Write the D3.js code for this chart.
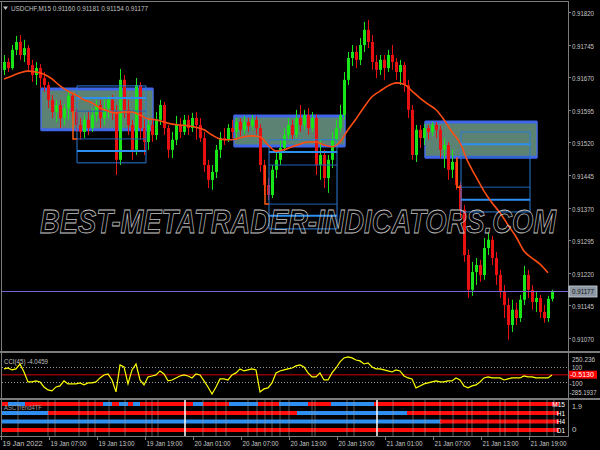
<!DOCTYPE html>
<html><head><meta charset="utf-8">
<script src="https://cdn.jsdelivr.net/npm/d3@7"></script>
<style>
html,body{margin:0;padding:0;background:#000;}
svg{display:block;}
text{font-family:"Liberation Sans","DejaVu Sans",sans-serif;}
</style></head><body>
<svg id="c" width="600" height="450"></svg>
<script>
// ---------------- DATA ----------------
const symbolTitle = "USDCHF,M15";
const lastOHLC = [0.91160, 0.91181, 0.91154, 0.91177];
const open = [0.91687,0.91705,0.91691,0.91733,0.91751,0.91721,0.91737,0.91698,0.91675,0.91691,
0.91668,0.91652,0.91618,0.91590,0.91606,0.91576,0.91599,0.91627,0.91590,0.91560,
0.91544,0.91572,0.91553,0.91583,0.91606,0.91576,0.91599,0.91618,0.91590,0.91480,
0.91664,0.91595,0.91560,0.91503,0.91652,0.91553,0.91521,0.91560,0.91537,0.91572,
0.91606,0.91553,0.91503,0.91526,0.91560,0.91544,0.91572,0.91553,0.91576,0.91560,
0.91530,0.91468,0.91434,0.91452,0.91503,0.91530,0.91526,0.91553,0.91544,0.91567,
0.91549,0.91567,0.91558,0.91572,0.91553,0.91468,0.91422,0.91399,0.91457,0.91480,
0.91507,0.91537,0.91560,0.91537,0.91576,0.91560,0.91583,0.91553,0.91576,0.91468,
0.91491,0.91438,0.91480,0.91526,0.91553,0.91583,0.91664,0.91714,0.91728,0.91710,
0.91744,0.91779,0.91751,0.91705,0.91687,0.91710,0.91691,0.91721,0.91705,0.91682,
0.91698,0.91652,0.91595,0.91491,0.91549,0.91530,0.91553,0.91544,0.91560,0.91549,
0.91503,0.91514,0.91457,0.91475,0.91422,0.91365,0.91261,0.91181,0.91222,0.91238,
0.91215,0.91277,0.91296,0.91254,0.91215,0.91176,0.91146,0.91100,0.91135,0.91116,
0.91158,0.91215,0.91181,0.91153,0.91162,0.91130,0.91116,0.91160];
const high = [0.91721,0.91714,0.91744,0.91765,0.91767,0.91756,0.91744,0.91710,0.91705,0.91700,
0.91682,0.91659,0.91629,0.91618,0.91618,0.91608,0.91636,0.91631,0.91599,0.91576,
0.91583,0.91590,0.91599,0.91618,0.91618,0.91622,0.91627,0.91629,0.91606,0.91689,
0.91675,0.91618,0.91572,0.91668,0.91659,0.91572,0.91576,0.91572,0.91590,0.91618,
0.91613,0.91560,0.91544,0.91581,0.91576,0.91583,0.91583,0.91588,0.91590,0.91576,
0.91544,0.91480,0.91468,0.91514,0.91544,0.91553,0.91562,0.91572,0.91576,0.91576,
0.91581,0.91576,0.91583,0.91581,0.91562,0.91480,0.91438,0.91468,0.91498,0.91526,
0.91553,0.91576,0.91572,0.91595,0.91606,0.91595,0.91599,0.91590,0.91585,0.91526,
0.91503,0.91491,0.91544,0.91572,0.91606,0.91682,0.91728,0.91744,0.91742,0.91760,
0.91797,0.91802,0.91767,0.91721,0.91721,0.91721,0.91733,0.91744,0.91714,0.91710,
0.91705,0.91664,0.91606,0.91560,0.91560,0.91562,0.91560,0.91567,0.91567,0.91558,
0.91530,0.91521,0.91503,0.91484,0.91429,0.91376,0.91273,0.91245,0.91254,0.91250,
0.91300,0.91312,0.91305,0.91268,0.91227,0.91192,0.91162,0.91158,0.91151,0.91169,
0.91236,0.91227,0.91192,0.91176,0.91169,0.91146,0.91167,0.91181];
const low = [0.91675,0.91682,0.91687,0.91721,0.91710,0.91705,0.91682,0.91659,0.91652,0.91645,
0.91636,0.91599,0.91576,0.91567,0.91553,0.91560,0.91572,0.91576,0.91544,0.91526,
0.91530,0.91537,0.91544,0.91567,0.91553,0.91560,0.91576,0.91572,0.91445,0.91468,
0.91576,0.91537,0.91480,0.91491,0.91526,0.91491,0.91503,0.91521,0.91526,0.91560,
0.91537,0.91484,0.91484,0.91514,0.91530,0.91537,0.91537,0.91544,0.91526,0.91521,
0.91452,0.91415,0.91411,0.91438,0.91484,0.91514,0.91521,0.91530,0.91530,0.91535,
0.91539,0.91544,0.91549,0.91539,0.91452,0.91399,0.91388,0.91392,0.91438,0.91468,
0.91498,0.91526,0.91526,0.91530,0.91544,0.91549,0.91537,0.91544,0.91445,0.91434,
0.91415,0.91404,0.91461,0.91514,0.91544,0.91572,0.91652,0.91696,0.91691,0.91698,
0.91728,0.91737,0.91687,0.91668,0.91675,0.91664,0.91682,0.91687,0.91664,0.91652,
0.91636,0.91576,0.91480,0.91475,0.91507,0.91514,0.91526,0.91535,0.91530,0.91484,
0.91461,0.91434,0.91438,0.91411,0.91346,0.91245,0.91162,0.91167,0.91192,0.91199,
0.91204,0.91261,0.91238,0.91192,0.91162,0.91116,0.91066,0.91084,0.91100,0.91107,
0.91146,0.91162,0.91135,0.91130,0.91116,0.91105,0.91107,0.91154];
const close = [0.91705,0.91691,0.91733,0.91751,0.91721,0.91737,0.91698,0.91675,0.91691,0.91668,
0.91652,0.91618,0.91590,0.91606,0.91576,0.91599,0.91627,0.91590,0.91560,0.91544,
0.91572,0.91553,0.91583,0.91606,0.91576,0.91599,0.91618,0.91590,0.91480,0.91664,
0.91595,0.91560,0.91503,0.91652,0.91553,0.91521,0.91560,0.91537,0.91572,0.91606,
0.91553,0.91503,0.91526,0.91560,0.91544,0.91572,0.91553,0.91576,0.91560,0.91530,
0.91468,0.91434,0.91452,0.91503,0.91530,0.91526,0.91553,0.91544,0.91567,0.91549,
0.91567,0.91558,0.91572,0.91553,0.91468,0.91422,0.91399,0.91457,0.91480,0.91507,
0.91537,0.91560,0.91537,0.91576,0.91560,0.91583,0.91553,0.91576,0.91468,0.91491,
0.91438,0.91480,0.91526,0.91553,0.91583,0.91664,0.91714,0.91728,0.91710,0.91744,
0.91779,0.91751,0.91705,0.91687,0.91710,0.91691,0.91721,0.91705,0.91682,0.91698,
0.91652,0.91595,0.91491,0.91549,0.91530,0.91553,0.91544,0.91560,0.91549,0.91503,
0.91514,0.91457,0.91475,0.91422,0.91365,0.91261,0.91181,0.91222,0.91238,0.91215,
0.91277,0.91296,0.91254,0.91215,0.91176,0.91146,0.91100,0.91135,0.91116,0.91158,
0.91215,0.91181,0.91153,0.91162,0.91130,0.91116,0.91160,0.91177];
// moving average, sampled every 2nd bar
const maStep = 2;
const maValues = [0.91666,0.91673,0.91680,0.91684,0.91682,0.91677,0.91666,0.91650,0.91638,0.91629,
0.91618,0.91611,0.91599,0.91592,0.91588,0.91590,0.91590,0.91583,0.91574,0.91572,
0.91567,0.91562,0.91560,0.91558,0.91555,0.91549,0.91537,0.91528,0.91526,0.91528,
0.91533,0.91535,0.91533,0.91514,0.91500,0.91503,0.91510,0.91516,0.91521,0.91521,
0.91514,0.91510,0.91521,0.91549,0.91574,0.91601,0.91625,0.91638,0.91650,0.91657,
0.91654,0.91638,0.91622,0.91608,0.91595,0.91572,0.91544,0.91519,0.91475,0.91441,
0.91408,0.91381,0.91358,0.91330,0.91303,0.91270,0.91254,0.91240,0.91220];
const cciValues = [73,85,60,73,136,34,-93,-93,-80,-93,-157,-195,-208,-157,-144,-80,-118,-118,-118,-106,
-131,-106,-106,-93,-42,-4,9,-68,-220,124,98,-118,60,136,-68,-131,-29,-17,-4,47,
9,-80,-68,-42,-17,-4,-17,-42,9,-4,-80,-157,-246,-157,-55,-55,-68,-4,22,73,
47,60,73,60,-220,-182,-169,-106,22,47,60,73,85,111,124,98,22,-29,-29,22,
-68,-68,22,85,162,213,225,213,187,175,136,149,98,73,73,60,47,34,60,47,
-17,-42,-55,-169,-144,-118,-106,-93,-80,-93,-93,-80,-80,-42,-68,-144,-169,-144,-131,-93,
-42,-29,-42,-42,-42,-68,-55,-42,-42,-42,-17,-29,-29,-42,-42,-42,-42,-4];
const cciLabel = "CCI(45) -4.0459";
const cciMax = 250.236, cciMin = -285.1937, cciLevels = [100, -100], cciCurrent = -0.5130;
const priceTicks = [0.91820,0.91745,0.91670,0.91595,0.91520,0.91445,0.91370,0.91295,0.91220,0.91145,0.91070];
const timeLabels = ["19 Jan 2022","19 Jan 07:00","19 Jan 13:00","19 Jan 19:00","20 Jan 01:00","20 Jan 07:00",
"20 Jan 13:00","20 Jan 19:00","21 Jan 01:00","21 Jan 07:00","21 Jan 13:00","21 Jan 19:00"];
const timeTickIndex = [-0.75,11.25,23.25,35.25,47.25,59.25,71.25,83.25,95.25,107.25,119.25,131.25];
// supply / demand zones (bar index range, price range)
const zoneStart = [9.25, 57.5, 105.25];
const zoneEnd   = [37.25, 85.25, 133.25];
const zoneTop   = [0.91643, 0.91581, 0.91567];
const zoneBottom= [0.91549, 0.91512, 0.91486];
// projection grids (bar index range, six levels)
const gridStart = [18.25, 66.25, 114.25];
const gridEnd   = [35.5, 83.25, 131.5];
const gridLevels = [
  [0.91650,0.91622,0.91592,0.91528,0.91500,0.91473],
  [0.91526,0.91498,0.91468,0.91378,0.91351,0.91321],
  [0.91544,0.91516,0.91486,0.91417,0.91388,0.91360]];
// multi timeframe trend rows: segments [startIndex, endIndex, 1=up(blue) / -1=down(red)]
const trendRows = ["M15","H1","H4","D1"];
const trendSegments = [
  [[-0.5,1.5,-1],[1.5,5.75,1],[5.75,25.25,-1],[25.25,27.5,1],[27.5,29.25,-1],[29.25,31.5,1],[31.5,32.75,-1],[32.75,34.5,1],[34.5,47.75,-1],
   [47.75,50.25,1],[50.25,56.75,-1],[56.75,64,1],[64,69.25,-1],[69.25,76.5,1],[76.5,82.25,-1],[82.25,93,1],[93,138.75,-1]],
  [[-0.5,11.5,1],[11.5,73.75,-1],[73.75,101.25,1],[101.25,138.75,-1]],
  [[-0.5,109.5,1],[109.5,138.75,-1]],
  [[-0.5,138.75,-1]]];
const trendLabel = "ASCTrend4TF";
const trendAxis = ["1.9","0"];
const hourSeparators = [3.5,11,12.75,18.75,21,22.75,26.25,30.25,35.5,37,38.5,49.75,53,55.5,61,63.25,65.25,67,69,71.25,77,77.75,85.75,87.5,97.25,102.25,105.25,109,112.25,115.75,117,121,124,125.25,128.5,131.5,135.75,137.5];
const daySeparators = [45.25, 93.25];
const watermark = "BEST-METATRADER-INDICATORS.COM";

// ---------------- DRAW ----------------
const svg = d3.select("#c");
svg.append("rect").attr("width",600).attr("height",450).attr("fill","#000");
const N = close.length;
const x = d3.scaleLinear().domain([0, N-1]).range([4, 4+4*(N-1)]);
const y = d3.scaleLinear().domain([0.91070, 0.91820]).range([338, 12]);
const yc = d3.scaleLinear().domain([cciMin, cciMax]).range([397, 355]);
const bull = "#19e619", bear = "#e81010";
const axisCol = "#c8c8c8", frameCol = "#7c7c7c";
const FS = 8;

function label(g, xx, yy, txt, len, opts={}) {
  const t = g.append("text").attr("x",xx).attr("y",yy).text(txt)
    .attr("font-size",opts.size||FS).attr("fill",opts.fill||axisCol);
  if (len) t.attr("textLength",len).attr("lengthAdjust","spacingAndGlyphs");
  if (opts.anchor) t.attr("text-anchor",opts.anchor);
  return t;
}

const defs = svg.append("defs");
defs.append("clipPath").attr("id","clipMain").append("rect").attr("x",2).attr("y",2).attr("width",566).attr("height",348);
defs.append("clipPath").attr("id","clipCci").append("rect").attr("x",2).attr("y",354).attr("width",566).attr("height",43);

// zones (behind candles)
const gZ = svg.append("g").attr("clip-path","url(#clipMain)");
zoneStart.forEach((s,k)=>{
  const x0 = x(s), x1 = x(zoneEnd[k]), y0 = y(zoneTop[k]), y1 = y(zoneBottom[k]);
  gZ.append("rect").attr("x",x0).attr("y",y0).attr("width",x1-x0).attr("height",y1-y0)
    .attr("fill","#5b8272").attr("stroke","#4a6fe0").attr("stroke-width",1.5);
  gZ.append("line").attr("x1",x0).attr("x2",x1).attr("y1",y0).attr("y2",y0).attr("stroke","#3f66e8").attr("stroke-width",3);
  gZ.append("line").attr("x1",x0).attr("x2",x1).attr("y1",y1).attr("y2",y1).attr("stroke","#3f66e8").attr("stroke-width",3);
});

// candles
const gC = svg.append("g").attr("clip-path","url(#clipMain)");
const idx = d3.range(N);
gC.selectAll("line.wick").data(idx).join("line").attr("class","wick")
  .attr("x1",i=>x(i)+0.5).attr("x2",i=>x(i)+0.5)
  .attr("y1",i=>y(high[i])).attr("y2",i=>y(low[i]))
  .attr("stroke",i=>close[i]>=open[i]?bull:bear).attr("stroke-width",1);
gC.selectAll("rect.body").data(idx).join("rect").attr("class","body")
  .attr("x",i=>x(i)-1).attr("width",3)
  .attr("y",i=>Math.min(y(open[i]),y(close[i])))
  .attr("height",i=>Math.max(1,Math.abs(y(open[i])-y(close[i]))))
  .attr("fill",i=>close[i]>=open[i]?bull:bear);

// projection grids
const gG = svg.append("g").attr("clip-path","url(#clipMain)");
gridStart.forEach((s,k)=>{
  const x0 = x(s), x1 = x(gridEnd[k]);
  const lv = gridLevels[k];
  gG.append("line").attr("x1",x0).attr("x2",x0).attr("y1",y(lv[0])).attr("y2",y(lv[5])).attr("stroke","#2a7ad8").attr("stroke-width",1);
  gG.append("line").attr("x1",x1).attr("x2",x1).attr("y1",y(lv[0])).attr("y2",y(lv[5])).attr("stroke","#2a7ad8").attr("stroke-width",1);
  lv.forEach((p,j)=>{
    const thick = (j===1||j===4);
    gG.append("line").attr("x1",x0).attr("x2",x1).attr("y1",y(p)).attr("y2",y(p))
      .attr("stroke", thick?"#2d8ff0":(j===2||j===3?"#2062b8":"#2a7ad8")).attr("stroke-width",thick?2:1);
  });
  const xs = x(s-1);
  gG.append("path").attr("d",`M${xs},${y(lv[2])}V${y(lv[3])}H${x0}`).attr("fill","none").attr("stroke","#ff5a10").attr("stroke-width",1.5);
});

// moving average
const maLine = d3.line().x((d,k)=>x(k*maStep)).y(d=>y(d)).curve(d3.curveMonotoneX);
svg.append("path").attr("clip-path","url(#clipMain)").attr("d",maLine(maValues))
  .attr("fill","none").attr("stroke","#ff4d12").attr("stroke-width",1.6);

// watermark (stretched vertically so its natural width matches)
svg.append("text").attr("transform","translate(40,233) scale(1,1.3)").attr("x",0).attr("y",0).text(watermark)
  .attr("font-size",25).attr("font-style","italic").attr("font-weight","bold")
  .attr("textLength",516).attr("lengthAdjust","spacingAndGlyphs")
  .attr("fill","none").attr("stroke","#c4c4c4").attr("stroke-width",0.6);

// bid line
const bidY = y(lastOHLC[3]);
svg.append("line").attr("x1",1).attr("x2",568).attr("y1",bidY).attr("y2",bidY).attr("stroke","#7a64d8").attr("stroke-width",1);

// ---- CCI panel ----
const gI = svg.append("g").attr("clip-path","url(#clipCci)");
cciLevels.forEach(v=>{
  gI.append("line").attr("x1",2).attr("x2",568).attr("y1",Math.round(yc(v))+0.5).attr("y2",Math.round(yc(v))+0.5)
    .attr("stroke","#9a9a9a").attr("stroke-dasharray","1,2");
});
gI.append("line").attr("x1",2).attr("x2",568).attr("y1",yc(0)).attr("y2",yc(0)).attr("stroke","#8b0000").attr("stroke-width",1.5);
const cciLine = d3.line().x((d,i)=>x(i)).y(d=>yc(d));
gI.append("path").attr("d",cciLine(cciValues)).attr("fill","none").attr("stroke","#ffff00").attr("stroke-width",1.2);
label(svg, 4, 364, cciLabel, 44, {fill:"#c0c0c0"});

// ---- Trend panel ----
const rowY = [402, 411, 419.5, 428];
trendSegments.forEach((segs,r)=>{
  svg.selectAll(null).data(segs).join("rect")
    .attr("x",d=>Math.max(2,x(d[0])-2)).attr("width",d=>x(d[1])-Math.max(2,x(d[0])-2))
    .attr("y",rowY[r]).attr("height",4)
    .attr("fill",d=>d[2]>0?"#2f8ff0":"#ff0d0d");
});
svg.selectAll("line.hsep").data(hourSeparators).join("line").attr("class","hsep")
  .attr("x1",d=>x(d)).attr("x2",d=>x(d)).attr("y1",400).attr("y2",436)
  .attr("stroke","#9a9a9a").attr("stroke-opacity",0.55).attr("stroke-width",1);
svg.selectAll("line.dsep").data(daySeparators).join("line").attr("class","dsep")
  .attr("x1",d=>x(d)).attr("x2",d=>x(d)).attr("y1",400).attr("y2",436)
  .attr("stroke","#ffffff").attr("stroke-width",1.5);
trendRows.forEach((t,r)=>{
  label(svg, 565, rowY[r]+4.5, t, null, {size:6.5, fill:"#ffffff", anchor:"end"});
});
label(svg, 4, 410, trendLabel, 38, {fill:"#a0a0a0", size:7.5});

// ---- frames ----
const fr = svg.append("g").attr("stroke",frameCol).attr("fill","none");
fr.append("line").attr("x1",0).attr("x2",568).attr("y1",1.5).attr("y2",1.5);
fr.append("line").attr("x1",1.5).attr("x2",1.5).attr("y1",1).attr("y2",437);
fr.append("line").attr("x1",568.5).attr("x2",568.5).attr("y1",1).attr("y2",437);
fr.append("line").attr("x1",0).attr("x2",600).attr("y1",352).attr("y2",352).attr("stroke-width",2);
fr.append("line").attr("x1",0).attr("x2",600).attr("y1",399).attr("y2",399).attr("stroke-width",2);
fr.append("line").attr("x1",0).attr("x2",568).attr("y1",436.5).attr("y2",436.5);

// ---- price axis ----
const gA = svg.append("g");
priceTicks.forEach(p=>{
  const yy = Math.round(y(p))+0.5;
  gA.append("line").attr("x1",568).attr("x2",571).attr("y1",yy).attr("y2",yy).attr("stroke",frameCol);
  label(gA, 572, yy+3, p.toFixed(5), 22);
});
gA.append("rect").attr("x",569).attr("y",bidY-5.5).attr("width",28).attr("height",11).attr("fill","#8d98a4").attr("stroke","#cfd6dc").attr("stroke-width",0.8);
label(gA, 572, bidY+3, lastOHLC[3].toFixed(5), 22, {fill:"#101010"});

// CCI axis
[[cciMax.toFixed(3),359.5,23],[String(cciLevels[0]),367,10],[String(cciLevels[1]),383,13],[cciMin.toFixed(4),392.5,27]].forEach(d=>{
  label(gA, d[0].startsWith("-")?569.5:572, d[1]+2.5, d[0], d[2], {size:7});
});
gA.append("rect").attr("x",569).attr("y",yc(cciCurrent)-4).attr("width",28).attr("height",8).attr("fill","#ff0000");
label(gA, 570, yc(cciCurrent)+2.5, cciCurrent.toFixed(4), 24, {fill:"#ffffff", size:7});
// trend axis
label(gA, 572, 409, trendAxis[0], 10);
label(gA, 572, 432, trendAxis[1], null);

// ---- time axis ----
timeTickIndex.forEach((ti,k)=>{
  const xx = Math.round(x(ti))+0.5;
  gA.append("line").attr("x1",xx).attr("x2",xx).attr("y1",436).attr("y2",440).attr("stroke",frameCol);
  label(gA, xx+1, 446, timeLabels[k], k===0?40:36);
});

// ---- title ----
svg.append("path").attr("d","M3,6.5 L8,6.5 L5.5,10 Z").attr("fill","#c0c0c0");
label(svg, 11, 11, symbolTitle+"  "+lastOHLC.map(v=>v.toFixed(5)).join(" "), 137, {fill:"#c0c0c0"});
</script>
</body></html>
